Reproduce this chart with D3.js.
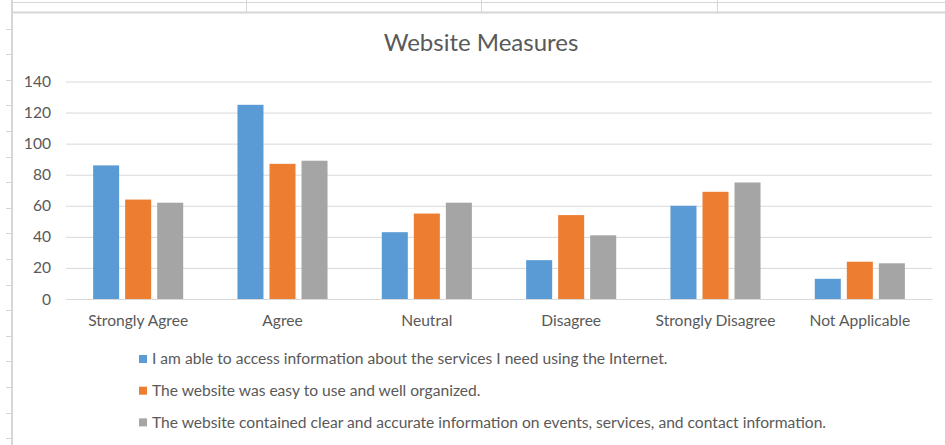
<!DOCTYPE html>
<html>
<head>
<meta charset="utf-8">
<script src="https://cdn.jsdelivr.net/npm/d3@7"></script>
<style>
  html, body { margin: 0; padding: 0; background: #fff; }
  svg { display: block; font-family: Lato, "Open Sans", sans-serif; }
</style>
</head>
<body>
<div id="app"></div>
<script>
const categories = ["Strongly Agree", "Agree", "Neutral", "Disagree", "Strongly Disagree", "Not Applicable"];
const seriesNames = [
  "I am able to access information about the services I need using the Internet.",
  "The website was easy to use and well organized.",
  "The website contained clear and accurate information on events, services, and contact information."
];
const accessValues = [86, 125, 43, 25, 60, 13];
const easyValues = [64, 87, 55, 54, 69, 24];
const clearValues = [62, 89, 62, 41, 75, 23];
const yTicks = [0, 20, 40, 60, 80, 100, 120, 140];
const colors = ["#5b9bd5", "#ed7d31", "#a5a5a5"];

const seriesValues = [accessValues, easyValues, clearValues];
const width = 945;
const height = 445;
const plot = { left: 66, right: 932, top: 81.5, bottom: 299 };
const textColor = "#595959";
const gridColor = "#d9d9d9";
const labelSize = "15.6px";

const svg = d3
  .select("#app")
  .append("svg")
  .attr("width", width)
  .attr("height", height);

// spreadsheet cells behind the chart object
const sheet = svg.append("g").attr("stroke", "#d6d6d6");
sheet.append("line").attr("x1", 12).attr("x2", width).attr("y1", 2.5).attr("y2", 2.5);
[246, 481, 717].forEach(x =>
  sheet.append("line").attr("x1", x + 0.5).attr("x2", x + 0.5).attr("y1", 0).attr("y2", 12)
);
d3.range(28.5, height, 25.6).forEach(y =>
  sheet.append("line").attr("x1", 6).attr("x2", 12).attr("y1", Math.round(y) + 0.5).attr("y2", Math.round(y) + 0.5)
);
sheet.append("line").attr("x1", 12).attr("x2", 12).attr("y1", 0).attr("y2", height).attr("stroke-width", 2);
sheet.append("line").attr("x1", 12).attr("x2", width).attr("y1", 12.5).attr("y2", 12.5).attr("stroke-width", 2);

const x0 = d3
  .scaleBand()
  .domain(categories)
  .range([plot.left, plot.right])
  .paddingInner(0.376)
  .paddingOuter(0.188);

const x1 = d3
  .scaleBand()
  .domain(d3.range(seriesNames.length))
  .range([0, x0.bandwidth()])
  .paddingInner(0.1875);

const yScale = d3
  .scaleLinear()
  .domain([0, 140])
  .range([plot.bottom, plot.top]);

// gridlines + y labels
const yAxis = svg
  .append("g")
  .attr("transform", `translate(${plot.left}, 0)`)
  .call(
    d3.axisLeft(yScale)
      .tickValues(yTicks)
      .tickSize(-(plot.right - plot.left))
      .tickPadding(15)
  );
yAxis.select(".domain").remove();
yAxis.selectAll("line").attr("stroke", gridColor);
yAxis.selectAll("text")
  .attr("fill", textColor)
  .style("font-size", labelSize)
  .style("font-family", "Lato, sans-serif");

// bars
const groups = svg
  .selectAll(".group")
  .data(categories)
  .enter()
  .append("g")
  .attr("class", "group")
  .attr("transform", c => `translate(${x0(c)}, 0)`);

groups
  .selectAll("rect")
  .data((c, i) => seriesValues.map((vals, s) => ({ s, value: vals[i] })))
  .enter()
  .append("rect")
  .attr("x", d => x1(d.s))
  .attr("y", d => yScale(d.value))
  .attr("width", x1.bandwidth())
  .attr("height", d => plot.bottom - yScale(d.value))
  .attr("fill", d => colors[d.s]);

// category axis
const xAxis = svg
  .append("g")
  .attr("transform", `translate(0, ${plot.bottom})`)
  .call(d3.axisBottom(x0).tickSize(0).tickPadding(16));
xAxis.select(".domain").attr("stroke", gridColor);
xAxis.selectAll("text")
  .attr("fill", textColor)
  .style("font-size", labelSize)
  .style("font-family", "Lato, sans-serif");

// title
svg
  .append("text")
  .text("Website Measures")
  .attr("x", 481)
  .attr("y", 51)
  .attr("text-anchor", "middle")
  .attr("fill", textColor)
  .style("font-size", "24px");

// legend
const legend = svg
  .selectAll(".legend")
  .data(seriesNames)
  .enter()
  .append("g")
  .attr("class", "legend")
  .attr("transform", (d, i) => `translate(139, ${359 + i * 31.7})`);

legend
  .append("rect")
  .attr("x", 0)
  .attr("y", -4)
  .attr("width", 8)
  .attr("height", 8)
  .attr("fill", (d, i) => colors[i]);

legend
  .append("text")
  .text(d => d)
  .attr("x", 13)
  .attr("dy", "0.35em")
  .attr("fill", textColor)
  .style("font-size", labelSize);
</script>
</body>
</html>
